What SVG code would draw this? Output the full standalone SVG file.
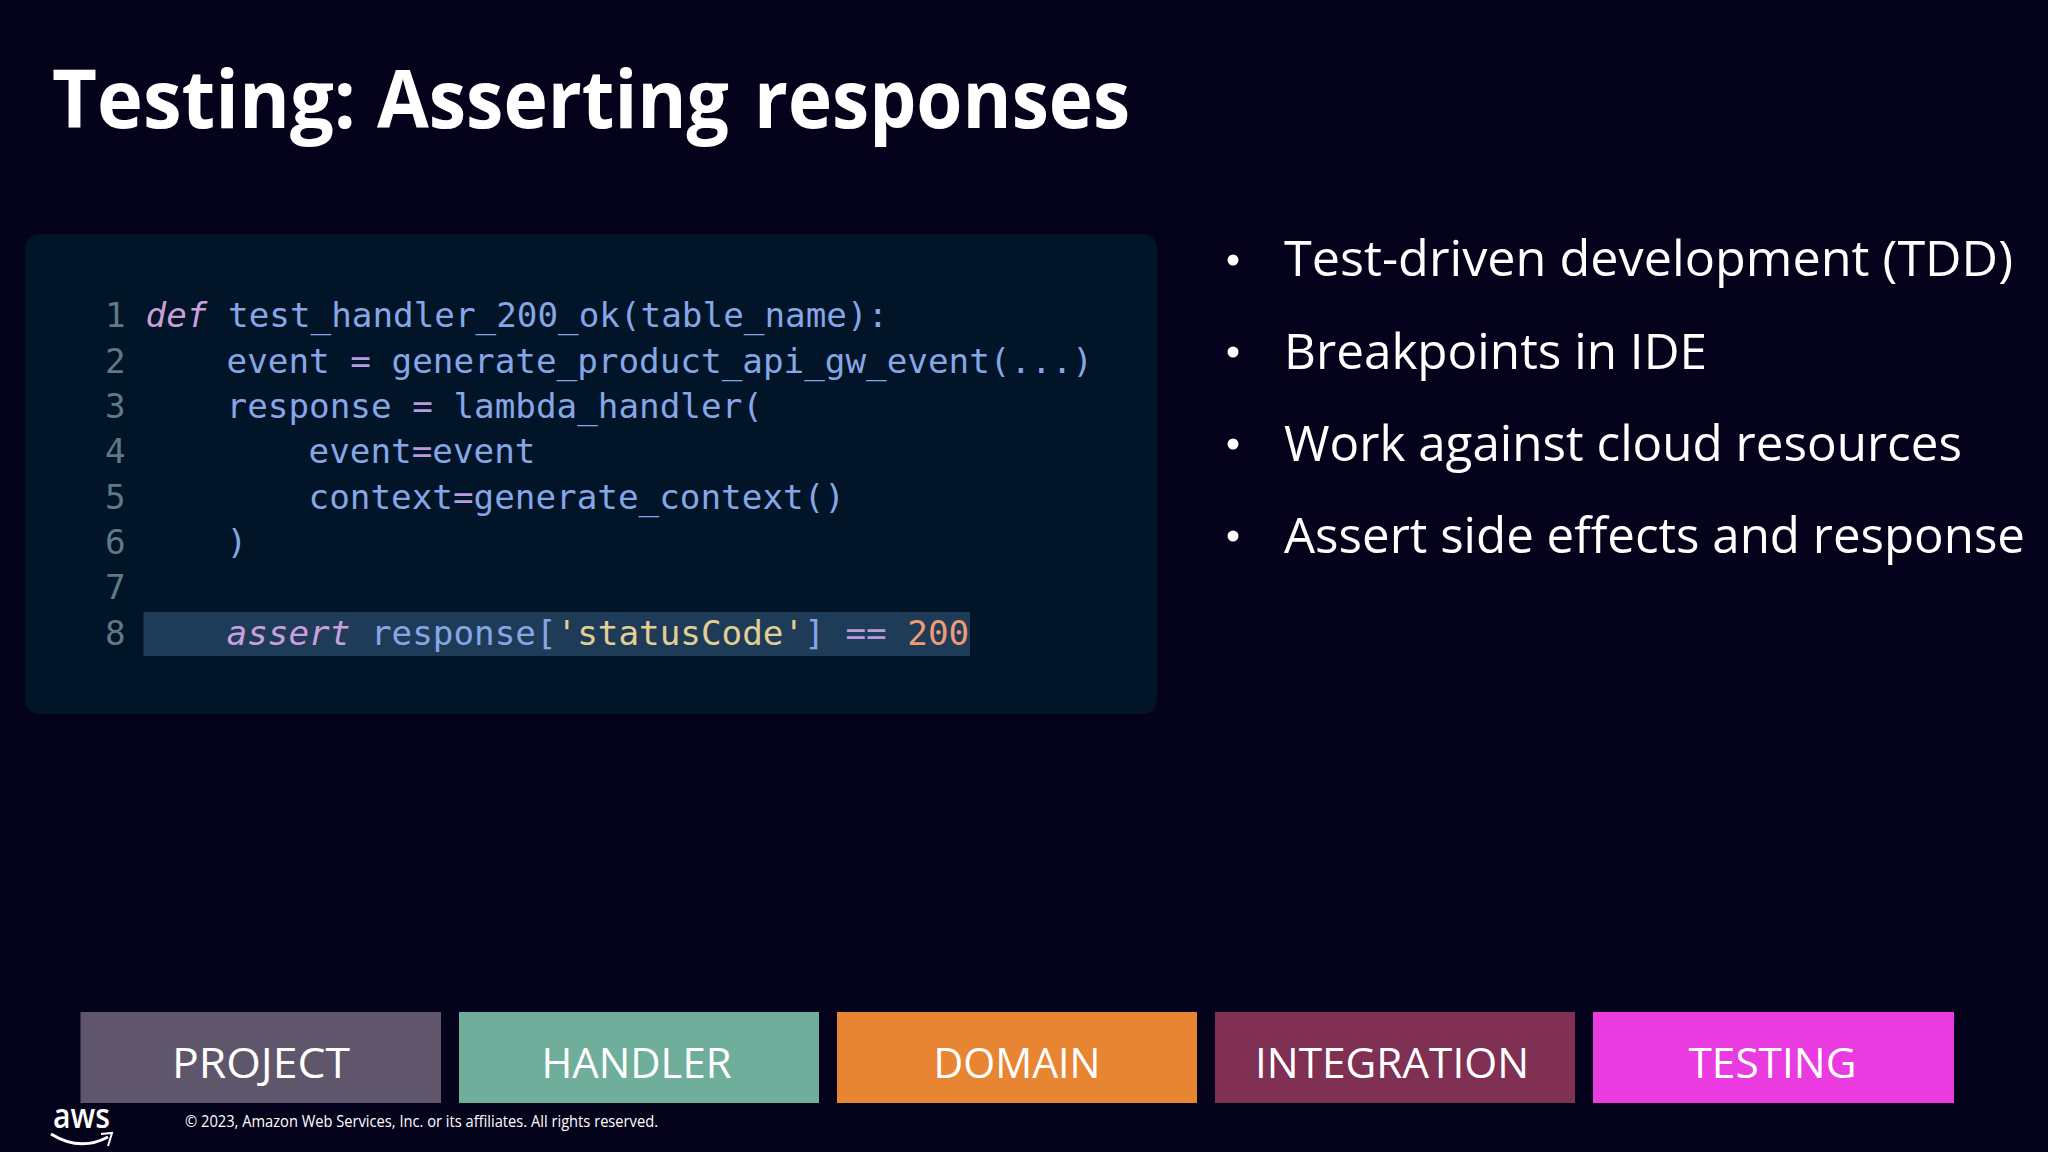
<svg xmlns="http://www.w3.org/2000/svg" width="2048" height="1152" viewBox="0 0 2048 1152">
<style>
.ui{font-family:"Open Sans","Noto Sans","Liberation Sans",sans-serif;fill:#fff}
.code{font-family:"DejaVu Sans Mono","Liberation Mono",monospace;font-size:34.27px;fill:#86a6e6;white-space:pre}
.ln{fill:#5f7a86}
.kw{fill:#c9a0dc;font-style:italic}
.op{fill:#b79ae0}
.str{fill:#e3cf95}
.num{fill:#f09a78}
.bullet{font-size:49px}
.box{font-size:42px;text-anchor:middle}
.title{font-size:80px;font-weight:700}
</style>
<rect width="2048" height="1152" fill="#05031b"/>
<g id="title">
<text class="ui title" x="52" y="128" textLength="304" lengthAdjust="spacingAndGlyphs">Testing:</text>
<text class="ui title" x="377" y="128" textLength="352" lengthAdjust="spacingAndGlyphs">Asserting</text>
<text class="ui title" x="754" y="128" textLength="376" lengthAdjust="spacingAndGlyphs">responses</text>
</g>
<g id="code-panel">
<rect x="25" y="234" width="1132" height="480" rx="14" fill="#011428"/>
<rect x="143.500" y="612" width="826.500" height="44" fill="#1e3c57"/>
<text class="code ln" x="105" y="327">1</text>
<text class="code ln" x="105" y="372.500">2</text>
<text class="code ln" x="105" y="418">3</text>
<text class="code ln" x="105" y="463">4</text>
<text class="code ln" x="105" y="508.500">5</text>
<text class="code ln" x="105" y="554">6</text>
<text class="code ln" x="105" y="599">7</text>
<text class="code ln" x="105" y="645">8</text>
<text class="code" x="145.500" y="327"><tspan class="kw">def</tspan> test_handler_200_ok(table_name):</text>
<text class="code" x="226.500" y="372.500">event <tspan class="op">=</tspan> generate_product_api_gw_event(...)</text>
<text class="code" x="226.500" y="418">response <tspan class="op">=</tspan> lambda_handler(</text>
<text class="code" x="308.500" y="463">event<tspan class="op">=</tspan>event</text>
<text class="code" x="308.500" y="508.500">context<tspan class="op">=</tspan>generate_context()</text>
<text class="code" x="226.500" y="554">)</text>
<text class="code" x="226.500" y="645"><tspan class="kw">assert</tspan> response[<tspan class="str">'statusCode'</tspan>] <tspan class="op">==</tspan> <tspan class="num">200</tspan></text>
</g>
<g id="bullets">
<circle cx="1233" cy="260" r="5.500" fill="#fff"/>
<circle cx="1233" cy="352" r="5.500" fill="#fff"/>
<circle cx="1233" cy="444" r="5.500" fill="#fff"/>
<circle cx="1233" cy="536" r="5.500" fill="#fff"/>
<text class="ui bullet" x="1284" y="276" textLength="729" lengthAdjust="spacingAndGlyphs">Test-driven development (TDD)</text>
<text class="ui bullet" x="1284" y="368.500" textLength="423" lengthAdjust="spacingAndGlyphs">Breakpoints in IDE</text>
<text class="ui bullet" x="1284" y="460.500" textLength="678" lengthAdjust="spacingAndGlyphs">Work against cloud resources</text>
<text class="ui bullet" x="1284" y="552.500" textLength="741" lengthAdjust="spacingAndGlyphs">Assert side effects and response</text>
</g>
<g id="project"><rect x="80.500" y="1012" width="360.500" height="91" fill="#5f566b"/><text class="ui box" x="261" y="1077.500" textLength="178" lengthAdjust="spacingAndGlyphs">PROJECT</text></g>
<g id="handler"><rect x="459" y="1012" width="360" height="91" fill="#6fae9b"/><text class="ui box" x="636.500" y="1077.500" textLength="190" lengthAdjust="spacingAndGlyphs">HANDLER</text></g>
<g id="domain"><rect x="837" y="1012" width="360" height="91" fill="#e78532"/><text class="ui box" x="1017" y="1077.500" textLength="167" lengthAdjust="spacingAndGlyphs">DOMAIN</text></g>
<g id="integration"><rect x="1215" y="1012" width="360" height="91" fill="#7f3053"/><text class="ui box" x="1392" y="1077.500" textLength="274" lengthAdjust="spacingAndGlyphs">INTEGRATION</text></g>
<g id="testing"><rect x="1593" y="1012" width="361" height="91" fill="#e93be0"/><text class="ui box" x="1772.500" y="1077.500" textLength="168" lengthAdjust="spacingAndGlyphs">TESTING</text></g>
<g id="footer">
<text class="ui" x="53" y="1128" font-size="34" font-weight="600" textLength="57" lengthAdjust="spacingAndGlyphs">aws</text>
<path d="M51 1134Q80 1152 108 1137" fill="none" stroke="#fff" stroke-width="3"/>
<path d="M101 1134L112 1133L108 1146" fill="none" stroke="#fff" stroke-width="2"/>
<text class="ui" x="185" y="1126.500" font-size="15.500" textLength="473" lengthAdjust="spacingAndGlyphs">© 2023, Amazon Web Services, Inc. or its affiliates. All rights reserved.</text>
</g>
</svg>
